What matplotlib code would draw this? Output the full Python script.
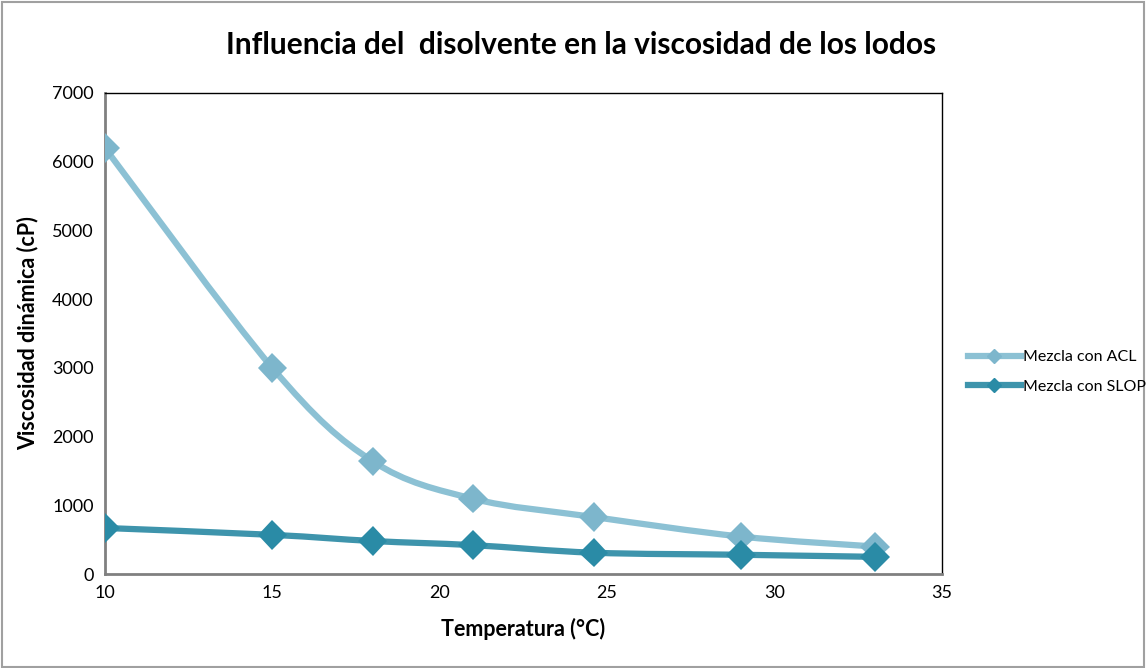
import matplotlib
matplotlib.use('Agg')
import matplotlib.pyplot as plt
import matplotlib.patheffects as pe
from matplotlib.path import Path
from matplotlib.patches import PathPatch, Rectangle
from matplotlib.lines import Line2D
import numpy as np

plt.rcParams['font.family'] = ['Lato', 'DejaVu Sans']

temperatura = [10, 15, 18, 21, 24.6, 29, 33]
visc_acl = [6200, 3000, 1640, 1095, 830, 545, 400]
visc_slop = [670, 570, 480, 420, 310, 280, 250]

title = 'Influencia del  disolvente en la viscosidad de los lodos'
xlabel = 'Temperatura (°C)'
ylabel = 'Viscosidad dinámica (cP)'
labels = ['Mezcla con ACL', 'Mezcla con SLOP']

col_acl, mk_acl = '#8CC1D4', '#7DB6CC'
col_slop, mk_slop = '#3E94AC', '#2A8BA6'


def smooth_path(x, y):
    # Excel-style smoothed line: cubic Bezier through the points
    p = np.column_stack([x, y]).astype(float)
    verts = [p[0]]
    codes = [Path.MOVETO]
    n = len(p)
    for i in range(n - 1):
        p_prev = p[i - 1] if i > 0 else p[i]
        p_next2 = p[i + 2] if i + 2 < n else p[i + 1]
        c1 = p[i] + (p[i + 1] - p_prev) / 6
        c2 = p[i + 1] - (p_next2 - p[i]) / 6
        verts += [c1, c2, p[i + 1]]
        codes += [Path.CURVE4] * 3
    return Path(verts, codes)


fig = plt.figure(figsize=(11.46, 6.68), dpi=100)
ax = fig.add_axes([0.0916, 0.1407, 0.7302, 0.7201])

shadow = [pe.SimpleLineShadow(offset=(1, -2.5), shadow_color='#555555', alpha=0.18), pe.Normal()]
for yv, lc, mc in [(visc_acl, col_acl, mk_acl), (visc_slop, col_slop, mk_slop)]:
    ax.add_patch(PathPatch(smooth_path(temperatura, yv), facecolor='none',
                           edgecolor=lc, linewidth=4.5, capstyle='round', zorder=2))
    ax.plot(temperatura, yv, linestyle='none', marker='D', markersize=15,
            markerfacecolor=mc, markeredgecolor=mc, markeredgewidth=0,
            zorder=3, path_effects=shadow)

ax.set_xlim(10, 35)
ax.set_ylim(0, 7000)
ax.set_xticks(range(10, 36, 5))
ax.set_yticks(range(0, 7001, 1000))
ax.tick_params(length=0, labelsize=13, pad=8)
for s in ['top', 'right']:
    ax.spines[s].set_color('black')
    ax.spines[s].set_linewidth(1)
for s in ['left', 'bottom']:
    ax.spines[s].set_color('#808080')
    ax.spines[s].set_linewidth(2)

ax.set_xlabel(xlabel, fontsize=15.5, fontweight='bold', labelpad=12)
ax.set_ylabel(ylabel, fontsize=15.5, fontweight='bold', labelpad=10)
fig.text(0.507, 0.932, title, ha='center', va='center', fontsize=21.5, fontweight='bold')

handles = [Line2D([], [], color=col_acl, lw=4.5, marker='D', markersize=7, markerfacecolor=mk_acl, markeredgecolor=mk_acl),
           Line2D([], [], color=col_slop, lw=4.5, marker='D', markersize=7, markerfacecolor=mk_slop, markeredgecolor=mk_slop)]
fig.legend(handles, labels, loc='center left', bbox_to_anchor=(0.832, 0.443),
           frameon=False, fontsize=11.5, handlelength=3.3, handletextpad=0.15, labelspacing=0.95)

fig.patches.append(Rectangle((0.002, 0.002), 0.996, 0.995, transform=fig.transFigure,
                             fill=False, edgecolor='#a0a0a0', linewidth=1.5))

plt.savefig('out.png', dpi=100)
